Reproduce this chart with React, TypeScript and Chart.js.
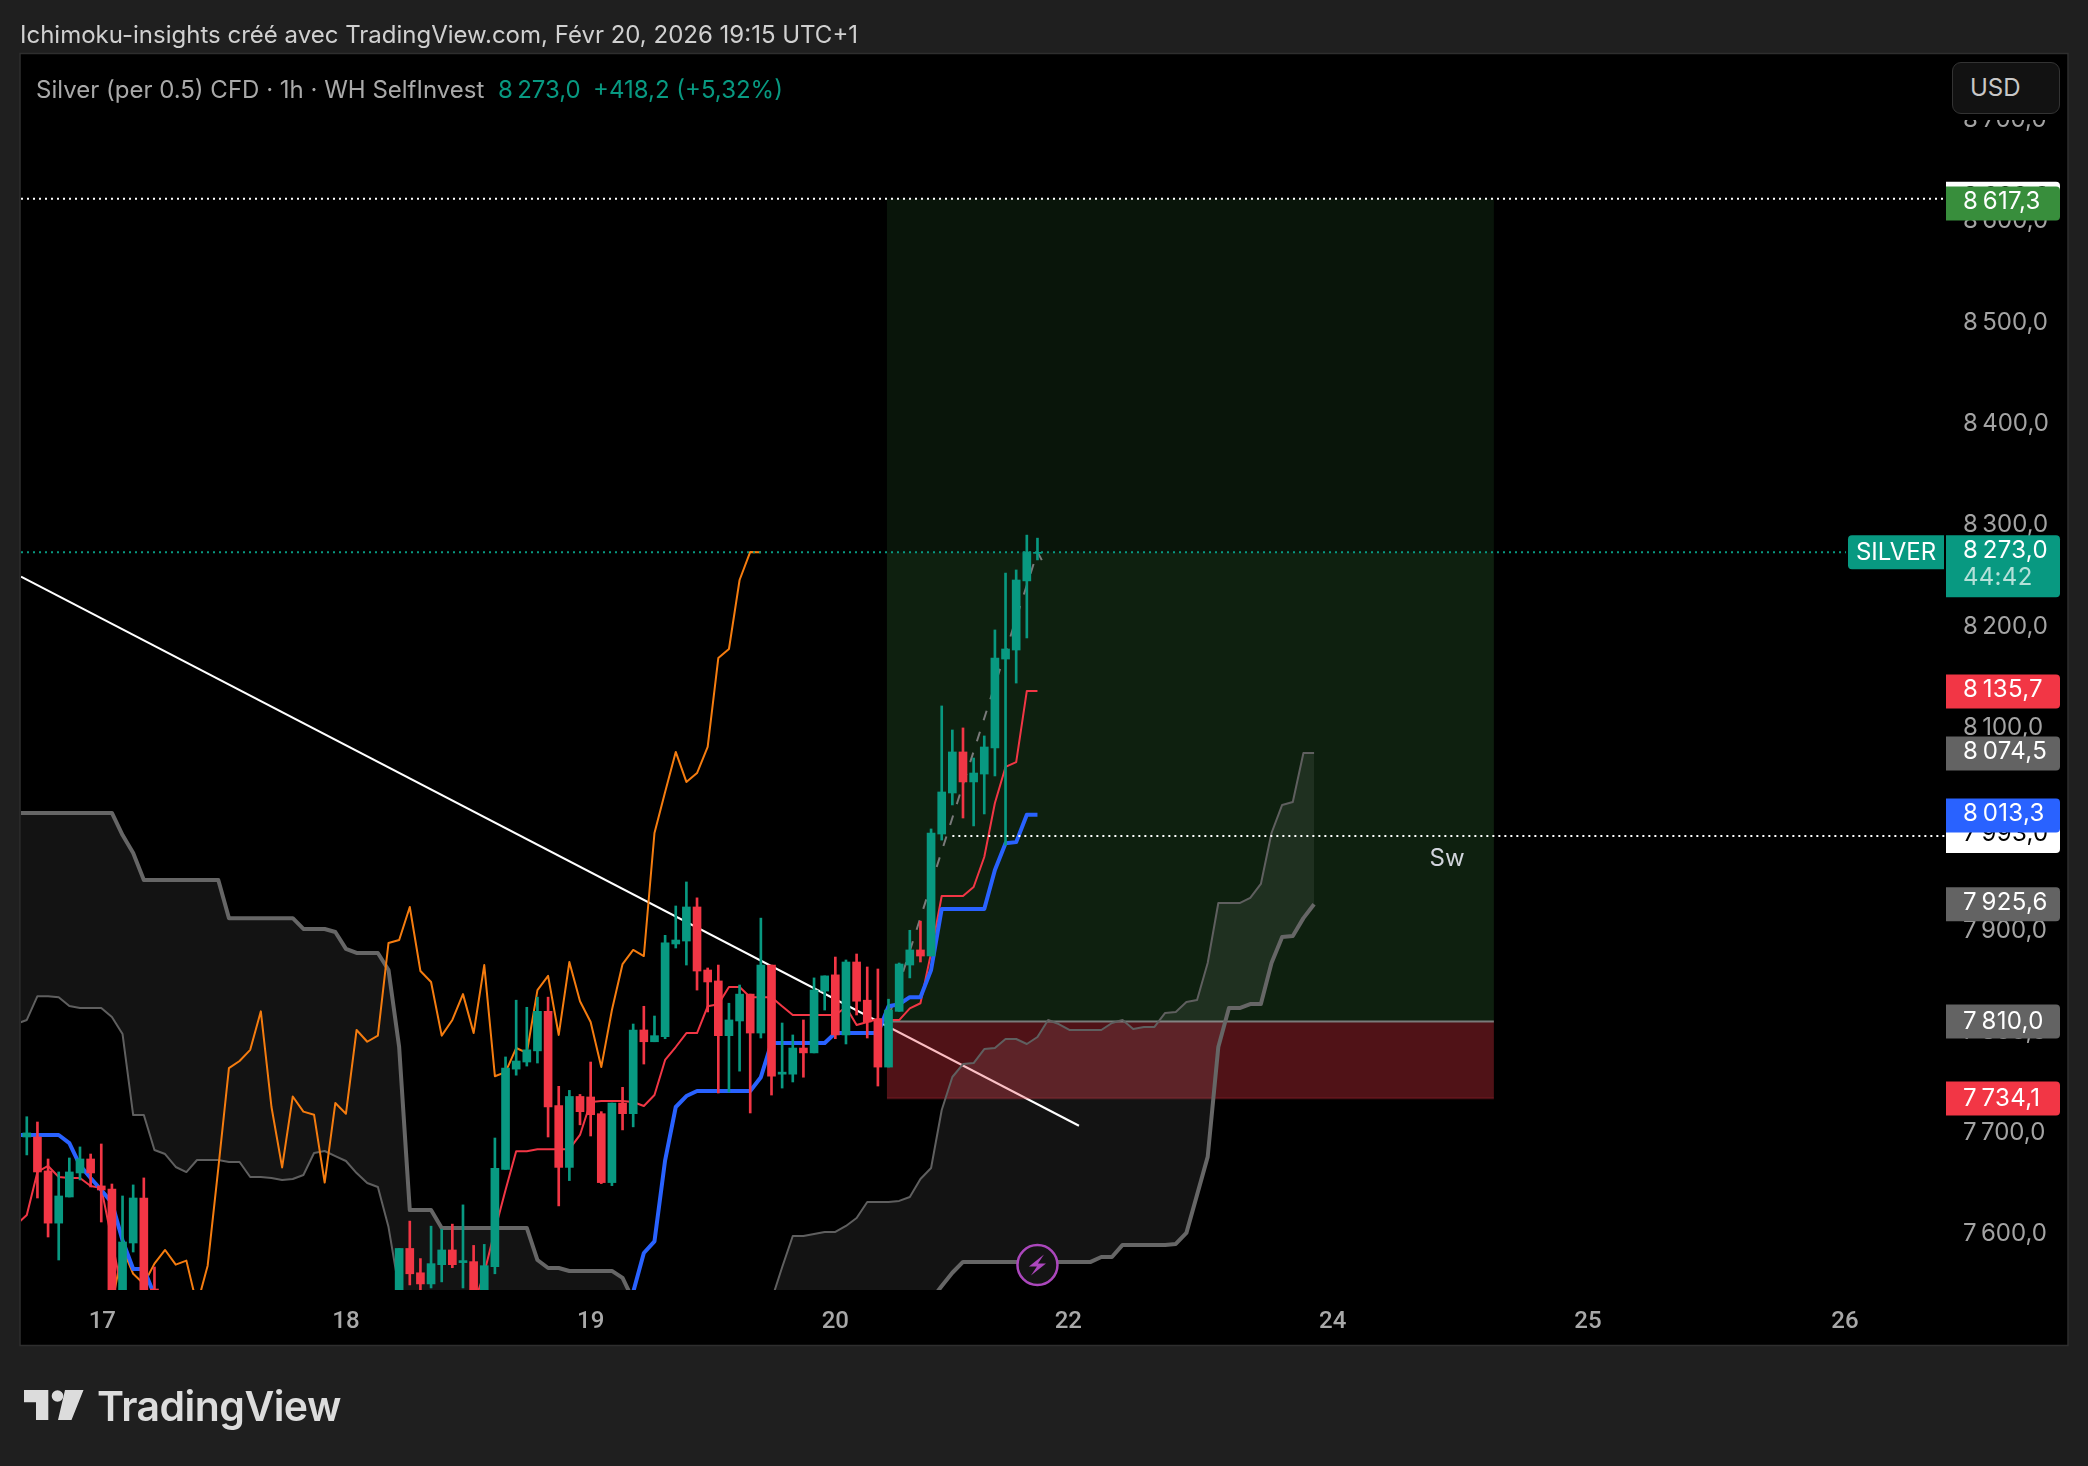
import React, { useEffect, useRef } from "react";
import { Chart, registerables } from "chart.js";

Chart.register(...registerables);

const titleText = "Ichimoku-insights créé avec TradingView.com, Févr 20, 2026 19:15 UTC+1";
const legendName = "Silver (per 0.5) CFD · 1h · WH SelfInvest";
const legendPrice = "8\u2009273,0";
const legendChange = "+418,2 (+5,32%)";

const priceTicks = [7600, 7700, 7800, 7900, 8000, 8100, 8200, 8300, 8400, 8500, 8600, 8700];
const dayTicks = [8.1, 31, 54, 77, 98.9, 123.75, 147.75, 171.9];
const dayLabels = ["17", "18", "19", "20", "22", "24", "25", "26"];

const n = null;
const opens = [7730, 7696, 7696, 7662.5, 7611, 7636.8, 7660.5, 7674.3, 7647.7, 7644.7, 7530, 7591.4, 7635.8, 7546,
  n, n, n, n, n, n, n, n, n, n, n, n, n, n, n, n, n, n, n, n, n,
  7520, 7530, 7586, 7562, 7551, 7570, 7584.5, 7572, 7573, 7530, 7568, 7664, 7763, 7770, 7781, 7820, 7727, 7666, 7736, 7735.5, 7719, 7651, 7729.5, 7719, 7801.6, 7790, 7795, 7886.5, 7889.4, 7923, 7860.8, 7850, 7796, 7810.5, 7837, 7798.6, 7865.7, 7758, 7758, 7783.8, 7779, 7840, 7856, 7796.7, 7868.7, 7831, 7812.4, 7765, 7820, 7865.7, 7880.6, 7874.6, 7995, 8035.5, 8076, 8046.4, 8054.2, 8079.9, 8167.7, 8176.6, 8244.8, 8272];
const closes = [7700, 7700, 7661.5, 7611, 7637.8, 7661.5, 7674.3, 7660.5, 7643.7, 7535, 7592.4, 7635.8, 7530, 7535,
  n, n, n, n, n, n, n, n, n, n, n, n, n, n, n, n, n, n, n, n, n,
  7530, 7586, 7561, 7551, 7571, 7584.5, 7570, 7574, 7530, 7569, 7665, 7764, 7771, 7782, 7820, 7725.6, 7666, 7736, 7721, 7718, 7651, 7729.5, 7719, 7801.6, 7790, 7796, 7887.5, 7890.4, 7923, 7859.8, 7849, 7796, 7811.5, 7837, 7798.6, 7865.7, 7756, 7760, 7783.8, 7779, 7841, 7855, 7796.7, 7868.7, 7830, 7809.5, 7765, 7821.3, 7866.7, 7880.6, 7874.6, 7996, 8036.5, 8076, 8046.4, 8055.2, 8080.9, 8168.7, 8177.6, 8245.7, 8273.4, 8273];
const highs = [7735, 7716, 7710.8, 7674.3, 7661.5, 7675.3, 7686.2, 7679.2, 7689.1, 7649.6, 7637.8, 7648.7, 7655.6, 7567.7,
  n, n, n, n, n, n, n, n, n, n, n, n, n, n, n, n, n, n, n, n, n,
  7535, 7586, 7613, 7576, 7608, 7605, 7610, 7629, 7589, 7590, 7695, 7775, 7831, 7824, 7834, 7834, 7746, 7742, 7738, 7770, 7721, 7729.5, 7745, 7807.5, 7825, 7815.4, 7895, 7924, 7947.7, 7932, 7862.8, 7865.7, 7828, 7846, 7837, 7912, 7865.7, 7808.5, 7796.7, 7811.5, 7853, 7855, 7873.6, 7870.7, 7876.6, 7863.8, 7861.8, 7832, 7867.7, 7900, 7909, 8000, 8121.4, 8097.7, 8099.7, 8070, 8091.8, 8196.4, 8252.6, 8255.6, 8290, 8287];
const lows = [7690, 7678.3, 7635.8, 7597.3, 7574.6, 7636.8, 7653.6, 7646.7, 7612.1, 7520, 7520, 7582.5, 7520, 7520,
  n, n, n, n, n, n, n, n, n, n, n, n, n, n, n, n, n, n, n, n, n,
  7510, 7520, 7550, 7530, 7547, 7553, 7567, 7547, 7520, 7520, 7561, 7664, 7757, 7766, 7769, 7696, 7628, 7653, 7708, 7697, 7650, 7648, 7703, 7706, 7768, 7790, 7793, 7882.5, 7865.7, 7841, 7819.4, 7739.4, 7740.4, 7761, 7719.7, 7793.7, 7737.4, 7744.3, 7750.3, 7755, 7779, 7821.3, 7793, 7787.8, 7816.4, 7793.7, 7746.3, 7765, 7820, 7853, 7868.7, 7874.6, 7989, 8023.7, 8010.8, 8003, 8014.8, 8052.3, 7984, 8144, 8188.5, 8265.5];

const tenkan = [7609.2, 7619, 7661.5, 7667.4, 7656.5, 7655.5, 7655.5, 7647.6, 7645.6, 7594, 7540,
  n, n, n, n, n, n, n, n, n, n, n, n, n, n, n, n, n, n, n, n, n, n, n, n, n, n, n, n, n, n, n, n,
  7530, 7561.8, 7604, 7643.7, 7682, 7682, 7684, 7684, 7684, 7684, 7698, 7730.5, 7731.5, 7731.5, 7731.5, 7730.5, 7726.6, 7737.4, 7772, 7784.8, 7798.6, 7798.6, 7825, 7827, 7844, 7844, 7834, 7834, 7834, 7825, 7816.4, 7816.4, 7816.4, 7816.4, 7816.4, 7824.3, 7806.5, 7809.5, 7812.4, 7811.4, 7811.4, 7823, 7828, 7877.6, 7933.8, 7933.8, 7933.8, 7942.7, 7972.3, 8025.6, 8061.2, 8066, 8136.2, 8136.2];
const kijun = [7698, 7698, 7698, 7698, 7698, 7690, 7668, 7655.5, 7643.7, 7631, 7594, 7565.7, 7565.7, 7540,
  n, n, n, n, n, n, n, n, n, n, n, n, n, n, n, n, n, n, n, n, n, n, n, n, n, n, n, n, n, n, n, n, n, n, n, n, n, n, n, n, n, n, n, n,
  7543, 7581.5, 7593, 7673, 7725.6, 7736.4, 7741.4, 7741.4, 7741.4, 7741.4, 7741.4, 7741.4, 7755, 7788.8, 7788.8, 7788.8, 7788.8, 7788.8, 7788.8, 7798.6, 7798.6, 7798.6, 7798.6, 7798.6, 7825, 7827, 7834, 7834, 7860.8, 7921, 7921, 7921, 7921, 7921, 7959.5, 7986, 7987, 8014, 8014];
const chikouShift = 26;

const senkouA = [7807.5, 7811.5, 7835, 7835, 7834, 7825.3, 7823.3, 7823.3, 7823.3, 7814.4, 7797.6, 7717.7, 7717.7, 7683.2, 7679.2, 7666.4, 7661.4, 7673.3, 7673.3, 7673.3, 7671.3, 7671.3, 7656.5, 7656.5, 7655.5, 7653.6, 7654.5, 7658.5, 7680.2, 7682.2, 7677.2, 7672.3, 7660.4, 7650.6, 7646.6, 7607.1, 7545,
  7500, 7500, 7500, 7500, 7500, 7500, 7500, 7500, 7500, 7500, 7500, 7500, 7500, 7500, 7500, 7500, 7500, 7500, 7500, 7500, 7500, 7500, 7500, 7500, 7500, 7500, 7500, 7500, 7500, 7500, 7500, 7500, 7500, 7500,
  7535, 7567.4, 7598.3, 7598.3, 7600.3, 7602.3, 7602.3, 7608.2, 7616.1, 7631.9, 7631.9, 7631.9, 7632.9, 7636.8, 7654.5, 7665.4, 7722.6, 7755.2, 7768, 7769, 7782.8, 7783.8, 7792.7, 7792.7, 7787.8, 7794.7, 7811.5, 7807.5, 7801.6, 7801.6, 7801.6, 7801.6, 7808.5, 7811.5, 7802.6, 7804.6, 7804.6, 7818.4, 7819.4, 7829.2, 7831.2, 7867.7, 7926.9, 7926.9, 7926.9, 7931.9, 7945.7, 7996, 8023.7, 8026.6, 8074.9, 8074.9];
const senkouB = [8015.8, 8015.8, 8015.8, 8015.8, 8015.8, 8015.8, 8015.8, 8015.8, 8015.8, 8015.8, 7994, 7976.3, 7949.6, 7949.6, 7949.6, 7949.6, 7949.6, 7949.6, 7949.6, 7949.6, 7912, 7912, 7912, 7912, 7912, 7912, 7912, 7901.3, 7901.3, 7901.3, 7898.3, 7881.6, 7877.6, 7877.6, 7877.6, 7860.8, 7784.8, 7623.9, 7623.9, 7623.9, 7606.2, 7606.2, 7606.2, 7606.2, 7606.2, 7606.2, 7606.2, 7606.2, 7606.2, 7574.6, 7566.7, 7566.7, 7563.8, 7563.8, 7563.8, 7563.8, 7563.8, 7556.9, 7535,
  7500, 7500, 7500, 7500, 7500, 7500, 7500, 7500, 7500, 7500, 7500, 7500, 7500, 7500, 7500, 7500, 7500, 7500, 7500, 7500, 7500, 7500, 7500, 7500, 7500, 7500, 7500,
  7535, 7549, 7562, 7572.7, 7572.7, 7572.7, 7572.7, 7572.7, 7572.7, 7572.7, 7572.7, 7572.7, 7572.7, 7572.7, 7572.7, 7572.7, 7577.6, 7577.6, 7589.5, 7589.5, 7589.5, 7589.5, 7589.5, 7590.5, 7601.4, 7638.9, 7676.4, 7784.8, 7823.3, 7823.3, 7827.2, 7827.2, 7867.7, 7893.4, 7894.4, 7912, 7925.6];

const trendBars = [0.455, 99.9];
const trendPrices = [8249.1, 7707.1];
const pathBars = [82, 96, 96.55];
const pathPrices = [7814, 8273.4, 8262.5];

const targetPrice = 8622;
const lastPrice = 8273;
const entryPrice = 7810;
const stopPrice = 7734.1;
const swingPrice = 7993;
const zoneBars = [81.85, 138.9];
const swingStartBar = 88;
const lastLineEndBar = 172;
const swLabel = { text: "Sw", bar: 134.5, price: 7971 };
const signalMark = { bar: 96, price: 7569.6 };

const axisLabelPrices = [8622, 8617.3, 8135.7, 8074.5, 7993, 8013.3, 7925.6, 7810, 7734.1];
const axisLabelTexts = ["8\u2009622,0", "8\u2009617,3", "8\u2009135,7", "8\u2009074,5", "7\u2009993,0", "8\u2009013,3", "7\u2009925,6", "7\u2009810,0", "7\u2009734,1"];
const axisLabelColors = ["#ffffff", "#388e3c", "#f23645", "#636363", "#ffffff", "#2962ff", "#636363", "#636363", "#f23645"];
const axisLabelInk = ["#000000", "#ffffff", "#ffffff", "#ffffff", "#000000", "#ffffff", "#ffffff", "#ffffff", "#ffffff"];
const axisLabelNudge = [-2, -2, -2, -2, -2, -2, -2, 0.5, 0.5];
const symbolName = "SILVER";
const lastPriceText = "8\u2009273,0";
const countdownText = "44:42";

const GREEN = "#089981";
const RED = "#f23645";
const FONT = "Inter, sans-serif";

const pts = (arr: (number | null)[]) => arr.map((y, x) => ({ x, y }));
const bodies: any[] = [];
const wicks: any[] = [];
const barColors: string[] = [];
opens.forEach((o, i) => {
  const c = closes[i];
  if (o === null || c === null) return;
  bodies.push({ x: i, y: [o, c] });
  wicks.push({ x: i, y: [lows[i], highs[i]] });
  barColors.push(c >= o ? GREEN : RED);
});
const chikou = closes.slice(chikouShift + 1).map((y, j) => ({ x: j + 1, y }));

const line = (label: string, data: any[], color: string, width: number, order: number, extra: any = {}) => ({
  type: "line", label, data, borderColor: color, borderWidth: width, pointRadius: 0, tension: 0, fill: false, order,
  spanGaps: false, borderJoinStyle: "round", borderCapStyle: "butt", ...extra,
});

const overlay = {
  id: "overlay",
  beforeDraw(chart: any) {
    const { ctx } = chart;
    ctx.save();
    ctx.fillStyle = "#000000";
    ctx.fillRect(20, 53, 2048, 1292);
    ctx.strokeStyle = "#2e2e2e";
    ctx.lineWidth = 1.5;
    ctx.strokeRect(20, 53.5, 2048, 1292);
    ctx.restore();
  },
  afterDatasetDraw(chart: any, args: any) {
    if (chart.data.datasets[args.index].label !== "Trend") return;
    const { ctx, chartArea: a, scales } = chart;
    const { x: xs, y: ys } = scales;
    const x0 = xs.getPixelForValue(zoneBars[0]);
    const x1 = xs.getPixelForValue(zoneBars[1]);
    const yT = ys.getPixelForValue(targetPrice);
    const yL = ys.getPixelForValue(lastPrice);
    const yE = ys.getPixelForValue(entryPrice);
    const yS = ys.getPixelForValue(stopPrice);
    ctx.save();
    ctx.beginPath();
    ctx.rect(a.left, a.top, a.right - a.left, a.bottom - a.top);
    ctx.clip();
    ctx.fillStyle = "rgba(76,175,80,0.12)";
    ctx.fillRect(x0, yT, x1 - x0, yL - yT);
    ctx.fillStyle = "rgba(76,175,80,0.185)";
    ctx.fillRect(x0, yL, x1 - x0, yE - yL);
    ctx.fillStyle = "rgba(242,54,69,0.33)";
    ctx.fillRect(x0, yE, x1 - x0, yS - yE);
    ctx.fillStyle = "rgba(242,54,69,0.2)";
    ctx.fillRect(x0, yS - 1, x1 - x0, 2);
    ctx.fillStyle = "#7a7a7a";
    ctx.fillRect(x0, yE - 1, x1 - x0, 2);
    ctx.restore();
  },
  afterDraw(chart: any) {
    const { ctx, scales } = chart;
    const { x: xs, y: ys } = scales;
    ctx.save();
    ctx.textBaseline = "middle";
    ctx.font = `24px ${FONT}`;
    const left = 1946, w = 114, h = 34, tx = 1963;

    ctx.fillStyle = "#d1d4dc";
    ctx.textAlign = "center";
    ctx.fillText(swLabel.text, xs.getPixelForValue(swLabel.bar), ys.getPixelForValue(swLabel.price));

    ctx.letterSpacing = "0.3px";
    ctx.textAlign = "left";
    axisLabelPrices.forEach((p, i) => {
      const cy = ys.getPixelForValue(p);
      ctx.fillStyle = axisLabelColors[i];
      ctx.beginPath();
      ctx.roundRect(left, cy - h / 2, w, h, [0, 4, 4, 0]);
      ctx.fill();
      ctx.fillStyle = axisLabelInk[i];
      ctx.fillText(axisLabelTexts[i], tx, cy + axisLabelNudge[i]);
    });

    const ly = ys.getPixelForValue(lastPrice);
    ctx.fillStyle = GREEN;
    ctx.beginPath();
    ctx.roundRect(left, ly - h / 2, w, 62, [0, 4, 4, 0]);
    ctx.fill();
    ctx.beginPath();
    ctx.roundRect(1848, ly - h / 2, 96, h, [4, 0, 0, 4]);
    ctx.fill();
    ctx.fillStyle = "#ffffff";
    ctx.fillText(lastPriceText, tx, ly - 2);
    ctx.fillStyle = "rgba(255,255,255,0.7)";
    ctx.fillText(countdownText, tx, ly + 25);
    ctx.fillStyle = "#ffffff";
    ctx.textAlign = "center";
    ctx.letterSpacing = "0px";
    ctx.fillText(symbolName, 1896, ly);

    const mx = xs.getPixelForValue(signalMark.bar);
    const my = ys.getPixelForValue(signalMark.price);
    ctx.fillStyle = "#141414";
    ctx.strokeStyle = "#ab47bc";
    ctx.lineWidth = 2.5;
    ctx.beginPath();
    ctx.arc(mx, my, 20, 0, Math.PI * 2);
    ctx.fill();
    ctx.stroke();
    ctx.fillStyle = "#ab47bc";
    ctx.beginPath();
    ctx.moveTo(mx + 6.5, my - 10.5);
    ctx.lineTo(mx - 8.5, my + 1.5);
    ctx.lineTo(mx - 0.5, my + 1.5);
    ctx.lineTo(mx - 6.5, my + 10.5);
    ctx.lineTo(mx + 8.5, my - 1.5);
    ctx.lineTo(mx + 0.5, my - 1.5);
    ctx.closePath();
    ctx.fill();
    ctx.restore();
  },
};

const abs = (left: number, top: number, extra: React.CSSProperties = {}): React.CSSProperties => ({
  position: "absolute", left, top, whiteSpace: "nowrap", fontFamily: FONT, ...extra,
});

export default function App() {
  const ref = useRef<HTMLCanvasElement>(null);
  useEffect(() => {
    document.body.style.margin = "0";
    const chart = new Chart(ref.current as HTMLCanvasElement, {
      type: "line",
      plugins: [overlay],
      data: {
        datasets: [
          line("Trend", trendBars.map((x, i) => ({ x, y: trendPrices[i] })), "#ffffff", 2, 100),
          line("Senkou A", pts(senkouA), "#5f5f5f", 2, 90, { fill: "+1", backgroundColor: "rgba(255,255,255,0.075)" }),
          line("Senkou B", pts(senkouB), "#666666", 4, 89),
          line("Chikou", chikou, "#f57c0f", 2, 80),
          line("Path", pathBars.map((x, i) => ({ x, y: pathPrices[i] })), "#7a7a7a", 2, 75, { borderDash: [10, 12], borderDashOffset: 18 }),
          line("Tenkan", pts(tenkan), RED, 2, 70),
          line("Kijun", pts(kijun), "#2962ff", 4, 65),
          { type: "bar", label: "Wicks", data: wicks, backgroundColor: barColors, barThickness: 2, grouped: false, order: 60 },
          { type: "bar", label: "Bodies", data: bodies, backgroundColor: barColors, barThickness: 8, grouped: false, order: 55 },
          line("Last", [{ x: 0.455, y: lastPrice }, { x: lastLineEndBar, y: lastPrice }], GREEN, 2, 10, { borderDash: [2, 4] }),
          line("Target", [{ x: 0.455, y: targetPrice }, { x: 181.4, y: targetPrice }], "#ffffff", 2, 9, { borderDash: [2, 4] }),
          line("Swing", [{ x: swingStartBar, y: swingPrice }, { x: 181.4, y: swingPrice }], "#ffffff", 2, 8, { borderDash: [2, 4] }),
        ],
      } as any,
      options: {
        animation: false,
        responsive: false,
        devicePixelRatio: 1,
        parsing: undefined,
        layout: { padding: { left: 21, top: 54, right: 20, bottom: 121 } },
        plugins: { legend: { display: false }, tooltip: { enabled: false }, title: { display: false } },
        scales: {
          x: {
            type: "linear", min: 0.455, max: 181.4, offset: false,
            grid: { display: false, drawTicks: false }, border: { display: false },
            afterBuildTicks: (s: any) => { s.ticks = dayTicks.map((value) => ({ value })); },
            afterFit: (s: any) => { s.height = 55; },
            ticks: {
              autoSkip: false, maxRotation: 0, padding: 18, color: "#a8a8a8",
              font: { family: "Roboto", size: 24, weight: "500" },
              callback: (v: any) => dayLabels[dayTicks.indexOf(v)],
            },
          },
          y: {
            type: "linear", position: "right", min: 7545, max: 8764.8,
            grid: { display: false, drawTicks: false }, border: { display: false },
            afterBuildTicks: (s: any) => { s.ticks = priceTicks.map((value) => ({ value })); },
            afterFit: (s: any) => { s.width = 122; },
            ticks: {
              autoSkip: false, padding: 17, crossAlign: "near", color: "#a3a3a3",
              font: { family: "Inter", size: 24 },
              callback: (v: any) => `${Math.floor(v / 1000)}\u2009${String(v % 1000).padStart(3, "0")},0`,
            },
          },
        },
      } as any,
    });
    return () => chart.destroy();
  }, []);

  return (
    <div style={{ position: "absolute", left: 0, top: 0, width: 2088, height: 1466, background: "#1f1f1f", overflow: "hidden" }}>
      <canvas ref={ref} width={2088} height={1466} style={{ position: "absolute", left: 0, top: 0, width: 2088, height: 1466 }} />
      <div style={abs(20, 21, { fontSize: 24, lineHeight: "28px", color: "#d0d0d0" })}>{titleText}</div>
      <div style={abs(36, 76, { fontSize: 24, lineHeight: "28px", color: "#a9a9a9" })}>{legendName}</div>
      <div style={abs(498, 76, { fontSize: 24, lineHeight: "28px", color: GREEN })}>{legendPrice}</div>
      <div style={abs(593, 76, { fontSize: 24, lineHeight: "28px", color: GREEN })}>{legendChange}</div>
      <div style={{ position: "absolute", left: 1946, top: 55, width: 121, height: 65, background: "#000000" }} />
      <div style={abs(1952, 62, { width: 108, height: 52, boxSizing: "border-box", background: "#121212", border: "1.5px solid #333333", borderRadius: 9, fontSize: 24, lineHeight: "49px", paddingLeft: 17, color: "#c8c8c8" })}>USD</div>
      <svg width={62} height={32} viewBox="24 1390 60 30" style={{ position: "absolute", left: 24, top: 1390, width: 60, height: 30 }}>
        <path d="M24 1390H48.3V1420H36V1402.3H24Z M65 1390H83.5L71.5 1420H58Z" fill="#dcdcdc" />
        <circle cx={57.5} cy={1396} r={5.8} fill="#dcdcdc" />
      </svg>
      <div style={abs(97, 1381, { fontSize: 41, lineHeight: "50px", fontWeight: 600, color: "#dcdcdc", letterSpacing: "-0.55px" })}>TradingView</div>
    </div>
  );
}
